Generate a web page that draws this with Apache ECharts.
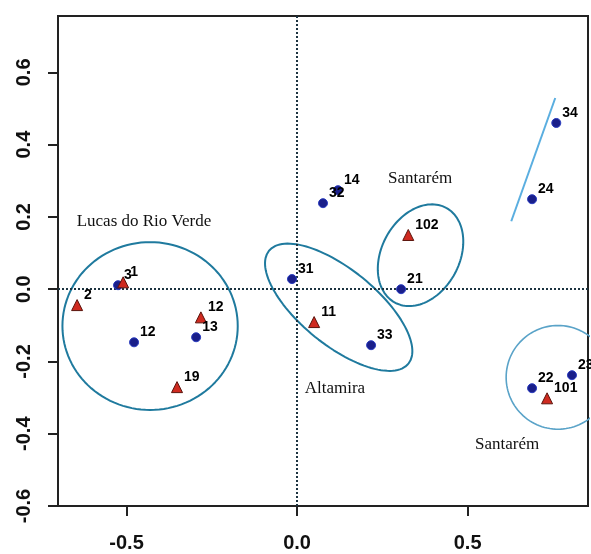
<!DOCTYPE html>
<html><head><meta charset="utf-8">
<script src="https://cdn.jsdelivr.net/npm/echarts@6/dist/echarts.min.js"></script>
<style>html,body{margin:0;padding:0;background:#fff}#c{width:591px;height:554px}</style>
</head><body><div id="c"></div>
<script>
// blue circles
const blueLabels = ['3','12','13','14','32','31','33','21','34','24','22','23'];
const blueX = [-0.525,-0.478,-0.296,0.120,0.076,-0.015,0.217,0.305,0.760,0.689,0.689,0.806];
const blueY = [0.011,-0.147,-0.133,0.274,0.238,0.028,-0.155,0.000,0.460,0.249,-0.274,-0.238];
// red triangles
const redLabels = ['1','2','12','19','11','102','101'];
const redX = [-0.510,-0.645,-0.282,-0.352,0.050,0.326,0.733];
const redY = [0.019,-0.044,-0.078,-0.271,-0.091,0.150,-0.302];
// group annotations
const groupNames = ['Lucas do Rio Verde','Santarém','Altamira','Santarém'];
const groupX = [-0.449,0.361,0.111,0.616];
const groupY = [0.186,0.305,-0.274,-0.429];
// ellipses: centre, semi-axes (x-axis units), rotation (deg)
const ellipseCX = [-0.431,0.122,0.362,0.765];
const ellipseCY = [-0.102,-0.050,0.094,-0.244];
const ellipseA = [0.257,0.263,0.158,0.152];
const ellipseB = [0.246,0.111,0.114,0.152];
const ellipseAngle = [0,-39,61.6,0];
// trend segment
const trendX = [0.628,0.757];
const trendY = [0.188,0.529];
// axes
const xMin = -0.701, xMax = 0.853, yMin = -0.6, yMax = 0.756;
const xTicks = [-0.5,0,0.5];
const yTicks = [-0.6,-0.4,-0.2,0,0.2,0.4,0.6];

const W = 591, H = 554;
const gl = 58, gr = 3, gt = 16, gb = 48;
const aspect = ((W-gl-gr)/(xMax-xMin)) / ((H-gt-gb)/(yMax-yMin));

function ellipsePts(i){
  const pts = [];
  const th = ellipseAngle[i]*Math.PI/180;
  for(let k=0;k<=120;k++){
    const t = k/120*2*Math.PI;
    const u = ellipseA[i]*Math.cos(t), v = ellipseB[i]*Math.sin(t);
    const dx = u*Math.cos(th) - v*Math.sin(th);
    const dy = u*Math.sin(th) + v*Math.cos(th);
    pts.push([ellipseCX[i]+dx, ellipseCY[i]+dy*aspect]);
  }
  return pts;
}
const ellipseColors = ['#1f7a9e','#1f7a9e','#1f7a9e','#5aa3c8'];
const ellipseWidths = [2,2,2,1.6];

const series = [];
for(let i=0;i<ellipseCX.length;i++){
  series.push({type:'line', data:ellipsePts(i), showSymbol:false, symbol:'none', silent:true,
    lineStyle:{color:ellipseColors[i], width:ellipseWidths[i]}, z:2, animation:false});
}
series.push({type:'line', data:trendX.map((x,i)=>[x,trendY[i]]), symbol:'none', silent:true,
  lineStyle:{color:'#5aaee0', width:2}, z:2, animation:false,
  markLine:{symbol:'none', silent:true, animation:false, label:{show:false},
    lineStyle:{color:'#1c3340', type:[2,2], width:2},
    data:[{xAxis:0},{yAxis:0}]}});
const lab = {show:true, position:'right', distance:1, offset:[0,-10], opacity:1,
  fontFamily:'Liberation Sans, Arial, sans-serif', fontSize:14, fontWeight:'bold', color:'#000',
  formatter:p=>p.data[2]};
series.push({type:'scatter', symbol:'circle', symbolSize:9, z:5, animation:false,
  itemStyle:{color:'#1a1f8a', borderColor:'#2a3cc0', borderWidth:1, opacity:1},
  label:lab, data:blueX.map((x,i)=>[x,blueY[i],blueLabels[i]])});
series.push({type:'scatter', symbol:'triangle', symbolSize:11, z:5, animation:false,
  itemStyle:{color:'#cf2a20', borderColor:'#5a140c', borderWidth:1, opacity:1},
  label:lab, data:redX.map((x,i)=>[x,redY[i],redLabels[i]])});
series.push({type:'scatter', symbol:'circle', symbolSize:1, z:6, animation:false, silent:true,
  itemStyle:{color:'rgba(0,0,0,0)', opacity:1},
  label:{show:true, position:'inside', opacity:1, fontFamily:'Liberation Serif, Times New Roman, serif',
    fontSize:17, color:'#111', formatter:p=>p.data[2]},
  data:groupX.map((x,i)=>[x,groupY[i],groupNames[i]])});

const chart = echarts.init(document.getElementById('c'), null, {renderer:'canvas'});
chart.setOption({
  animation:false,
  backgroundColor:'#fff',
  grid:{left:gl, right:gr, top:gt, bottom:gb, show:true, borderColor:'#222', borderWidth:2, backgroundColor:'transparent'},
  xAxis:{type:'value', min:xMin, max:xMax, splitLine:{show:false},
    axisLine:{show:true, onZero:false, lineStyle:{color:'#222', width:2}},
    axisTick:{show:true, length:10, customValues:xTicks, lineStyle:{color:'#222', width:2}},
    axisLabel:{customValues:xTicks, margin:27, fontSize:20, fontWeight:'bold', color:'#111',
      fontFamily:'Liberation Sans, Arial, sans-serif', formatter:v=>v.toFixed(1)}},
  yAxis:{type:'value', min:yMin, max:yMax, splitLine:{show:false},
    axisLine:{show:true, onZero:false, lineStyle:{color:'#222', width:2}},
    axisTick:{show:true, length:10, customValues:yTicks, lineStyle:{color:'#222', width:2}},
    axisLabel:{customValues:yTicks, rotate:90, margin:24, fontSize:20, fontWeight:'bold', color:'#111',
      fontFamily:'Liberation Sans, Arial, sans-serif', formatter:v=>v.toFixed(1)}},
  series:series
});
</script></body></html>
